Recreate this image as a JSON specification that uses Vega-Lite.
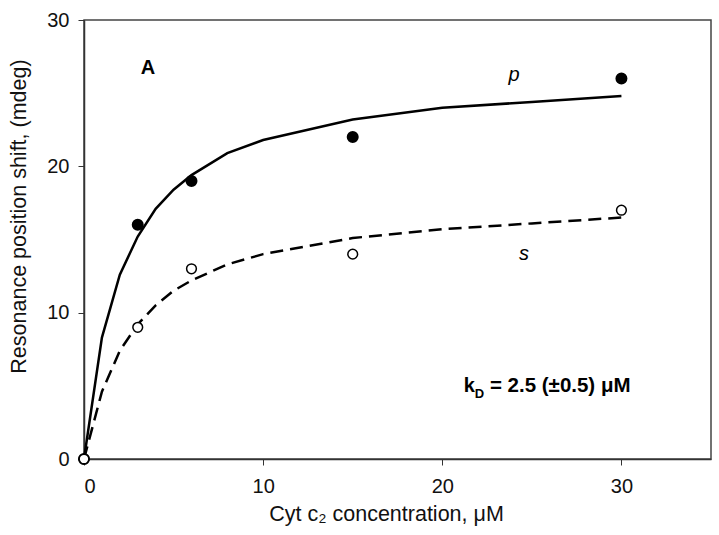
{
  "$schema": "https://vega.github.io/schema/vega-lite/v6.json",
  "width": 627,
  "height": 439,
  "autosize": {"type": "none"},
  "padding": {"left": 84, "top": 20, "right": 8, "bottom": 76},
  "background": "white",
  "config": {
    "view": {"stroke": "#444", "strokeWidth": 1.5},
    "font": "Liberation Sans",
    "axis": {
      "grid": false,
      "domainColor": "#333",
      "domainWidth": 1.5,
      "tickColor": "#333",
      "tickSize": 6,
      "labelFont": "Liberation Sans",
      "labelFontSize": 20,
      "labelColor": "#111",
      "titleFont": "Liberation Sans",
      "titleFontSize": 21.5,
      "titleFontWeight": "normal",
      "titleColor": "#111"
    }
  },
  "datasets": {
    "curves": [
      {"x": 0, "y": 0, "s": "p"}, {"x": 1, "y": 8.3, "s": "p"}, {"x": 2, "y": 12.6, "s": "p"},
      {"x": 3, "y": 15.2, "s": "p"}, {"x": 4, "y": 17.1, "s": "p"}, {"x": 5, "y": 18.4, "s": "p"},
      {"x": 6, "y": 19.4, "s": "p"}, {"x": 8, "y": 20.9, "s": "p"}, {"x": 10, "y": 21.8, "s": "p"},
      {"x": 15, "y": 23.2, "s": "p"}, {"x": 20, "y": 24.0, "s": "p"}, {"x": 25, "y": 24.4, "s": "p"},
      {"x": 30, "y": 24.8, "s": "p"},
      {"x": 0, "y": 0, "s": "s"}, {"x": 1, "y": 4.6, "s": "s"}, {"x": 2, "y": 7.4, "s": "s"},
      {"x": 3, "y": 9.2, "s": "s"}, {"x": 4, "y": 10.5, "s": "s"}, {"x": 5, "y": 11.5, "s": "s"},
      {"x": 6, "y": 12.2, "s": "s"}, {"x": 8, "y": 13.3, "s": "s"}, {"x": 10, "y": 14.0, "s": "s"},
      {"x": 15, "y": 15.1, "s": "s"}, {"x": 20, "y": 15.7, "s": "s"}, {"x": 25, "y": 16.1, "s": "s"},
      {"x": 30, "y": 16.5, "s": "s"}
    ],
    "points": [
      {"x": 0, "y": 0, "s": "p"}, {"x": 3, "y": 16, "s": "p"}, {"x": 6, "y": 19, "s": "p"},
      {"x": 15, "y": 22, "s": "p"}, {"x": 30, "y": 26, "s": "p"},
      {"x": 0, "y": 0, "s": "s"}, {"x": 3, "y": 9, "s": "s"}, {"x": 6, "y": 13, "s": "s"},
      {"x": 15, "y": 14, "s": "s"}, {"x": 30, "y": 17, "s": "s"}
    ],
    "labels": [
      {"x": 3.57, "y": 26.3, "t": "A", "k": "bold"},
      {"x": 24.0, "y": 25.8, "t": "p", "k": "italic"},
      {"x": 24.56, "y": 13.6, "t": "s", "k": "italic"}
    ]
  },
  "encoding": {
    "x": {
      "field": "x", "type": "quantitative",
      "scale": {"domain": [0, 35], "nice": false, "zero": false},
      "axis": {"values": [0, 10, 20, 30], "title": "Cyt c₂ concentration, μM", "labelPadding": 11, "titlePadding": 7, "titleX": 302}
    },
    "y": {
      "field": "y", "type": "quantitative",
      "scale": {"domain": [0, 30], "nice": false},
      "axis": {"values": [0, 10, 20, 30], "title": "Resonance position shift, (mdeg)", "labelPadding": 9, "titlePadding": 16, "titleY": 196}
    }
  },
  "layer": [
    {
      "data": {"name": "curves"},
      "transform": [{"filter": "datum.s === 'p'"}],
      "mark": {"type": "line", "color": "black", "strokeWidth": 2.5}
    },
    {
      "data": {"name": "curves"},
      "transform": [{"filter": "datum.s === 's'"}],
      "mark": {"type": "line", "color": "black", "strokeWidth": 2.5, "strokeDash": [13, 7]}
    },
    {
      "data": {"name": "points"},
      "transform": [{"filter": "datum.s === 'p'"}],
      "mark": {"type": "point", "shape": "circle", "filled": true, "fill": "black", "stroke": "black", "size": 100, "opacity": 1}
    },
    {
      "data": {"name": "points"},
      "transform": [{"filter": "datum.s === 's'"}],
      "mark": {"type": "point", "shape": "circle", "filled": false, "fill": "white", "fillOpacity": 1, "stroke": "black", "strokeWidth": 1.5, "size": 95, "opacity": 1}
    },
    {
      "data": {"name": "labels"},
      "transform": [{"filter": "datum.k === 'bold'"}],
      "mark": {"type": "text", "fontSize": 20, "fontWeight": "bold", "color": "black", "align": "center", "baseline": "alphabetic"},
      "encoding": {"text": {"field": "t"}}
    },
    {
      "data": {"name": "labels"},
      "transform": [{"filter": "datum.k === 'italic'"}],
      "mark": {"type": "text", "fontSize": 20, "fontStyle": "italic", "color": "black", "align": "center", "baseline": "alphabetic"},
      "encoding": {"text": {"field": "t"}}
    },
    {
      "data": {"values": [{"x": 21.2, "y": 4.58, "t": "k"}]},
      "mark": {"type": "text", "fontSize": 20, "fontWeight": "bold", "color": "black", "align": "left", "baseline": "alphabetic"},
      "encoding": {"text": {"field": "t"}}
    },
    {
      "data": {"values": [{"x": 21.2, "y": 4.58, "t": "D"}]},
      "mark": {"type": "text", "fontSize": 13, "fontWeight": "bold", "color": "black", "align": "left", "baseline": "alphabetic", "dx": 11, "dy": 6},
      "encoding": {"text": {"field": "t"}}
    },
    {
      "data": {"values": [{"x": 22.66, "y": 4.58, "t": "= 2.5 (±0.5) μM"}]},
      "mark": {"type": "text", "fontSize": 20.5, "fontWeight": "bold", "color": "black", "align": "left", "baseline": "alphabetic"},
      "encoding": {"text": {"field": "t"}}
    }
  ]
}
